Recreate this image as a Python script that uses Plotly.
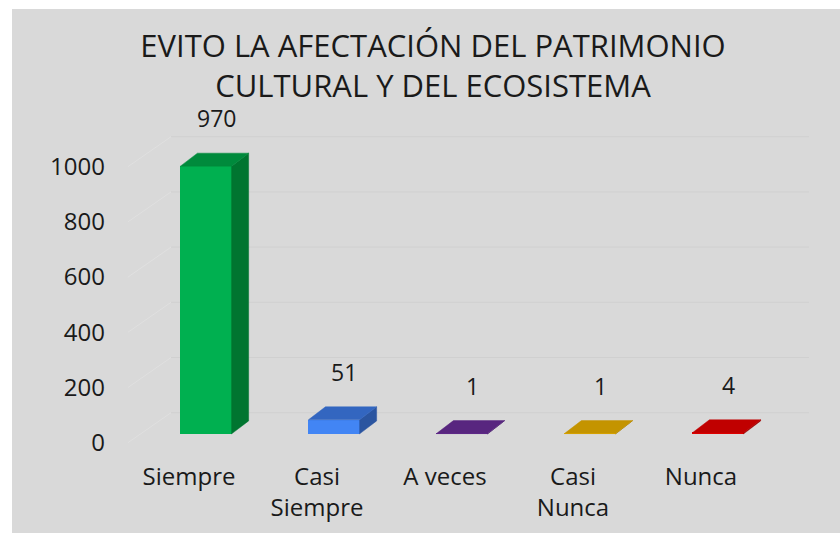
import plotly.graph_objects as go

# Chart data
categories = ["Siempre", "Casi<br>Siempre", "A veces", "Casi<br>Nunca", "Nunca"]
values = [970, 51, 1, 1, 4]
y_ticks = [0, 200, 400, 600, 800, 1000]

# Face colours for the pseudo-3D columns
front_colors = ["#00b050", "#4285f4", "#7030a0", "#ffc000", "#e00000"]
top_colors = ["#008a3c", "#3366c0", "#58267f", "#c49400", "#c00000"]
side_colors = ["#007530", "#2b55a0", "#451d66", "#9c7500", "#990000"]

# Projection constants (x in category units, y in value units)
BAR_SHIFT = 0.133      # front face centre relative to the category label
BAR_W = 0.40           # column width
BAR_BASE = 32          # floor height of the column front faces
DEPTH_X = 0.133        # column depth, horizontal part
DEPTH_Y = 47           # column depth, vertical part
WALL_X_FRONT = -0.477  # left edge of the floor (front)
WALL_X_BACK = -0.14    # left edge of the back wall
WALL_X_RIGHT = 4.844   # right edge of the back wall
WALL_DY = 108.7        # height offset of the back wall
LABEL_DX = 0.08
LABEL_SHIFT = 35

FONT = "Open Sans"
TEXT = "#1a1a1a"

ML, MR, MT, MB = 120, 10, 100, 78
W, H = 840, 533

fig = go.Figure()

# Grey chart panel behind everything
fig.add_shape(
    type="rect", xref="paper", yref="paper", xsizemode="pixel", ysizemode="pixel",
    xanchor=0, yanchor=0, x0=12 - ML, x1=W - ML + 5, y0=-MB - 5, y1=(H - MB) - 9,
    fillcolor="#d9d9d9", line=dict(width=0), layer="below")

# Back-wall grid lines with their slanted side-wall segment
for v in y_ticks:
    fig.add_shape(
        type="line", xref="x", yref="y",
        x0=WALL_X_FRONT, y0=v, x1=WALL_X_BACK, y1=v + WALL_DY,
        line=dict(color="#e0e0e0", width=1), layer="below")
    fig.add_shape(
        type="line", xref="x", yref="y",
        x0=WALL_X_BACK, y0=v + WALL_DY, x1=WALL_X_RIGHT, y1=v + WALL_DY,
        line=dict(color="#d0d0d0", width=1), layer="below")

positions = list(range(len(categories)))

# Side and top faces of every column
for i, v in enumerate(values):
    x0 = positions[i] + BAR_SHIFT - BAR_W / 2
    x1 = x0 + BAR_W
    top = BAR_BASE + v
    fig.add_trace(go.Scatter(
        x=[x1, x1 + DEPTH_X, x1 + DEPTH_X, x1, x1],
        y=[BAR_BASE, BAR_BASE + DEPTH_Y, top + DEPTH_Y, top, BAR_BASE],
        mode="lines", fill="toself", fillcolor=side_colors[i],
        line=dict(color=side_colors[i], width=0.5),
        hoverinfo="skip", showlegend=False))
    fig.add_trace(go.Scatter(
        x=[x0, x1, x1 + DEPTH_X, x0 + DEPTH_X, x0],
        y=[top, top, top + DEPTH_Y, top + DEPTH_Y, top],
        mode="lines", fill="toself", fillcolor=top_colors[i],
        line=dict(color=top_colors[i], width=0.5),
        hoverinfo="skip", showlegend=False))

# Front faces
fig.add_trace(go.Bar(
    x=[p + BAR_SHIFT for p in positions], y=values, base=BAR_BASE,
    width=BAR_W, marker=dict(color=front_colors, line=dict(width=0)),
    showlegend=False, hovertemplate="%{y}<extra></extra>"))

# Value labels above each column
for i, v in enumerate(values):
    fig.add_annotation(
        x=positions[i] + BAR_SHIFT + LABEL_DX, y=BAR_BASE + v + DEPTH_Y,
        text=str(v), showarrow=False, yshift=LABEL_SHIFT,
        font=dict(family=FONT, size=23, color=TEXT))

fig.update_layout(
    width=W, height=H,
    margin=dict(l=ML, r=MR, t=MT, b=MB),
    paper_bgcolor="white", plot_bgcolor="rgba(0,0,0,0)",
    title=dict(
        text="EVITO LA AFECTACIÓN DEL PATRIMONIO<br>CULTURAL Y DEL ECOSISTEMA",
        x=433 / W, xanchor="center", xref="container",
        y=1 - 57 / H, yanchor="top",
        font=dict(family=FONT, size=31, color=TEXT)),
    bargap=0,
    xaxis=dict(
        range=[-0.539, 5.008], tickvals=positions, ticktext=categories,
        showgrid=False, zeroline=False, showline=False, ticks="",
        ticklabelstandoff=5,
        tickfont=dict(family=FONT, size=24, color=TEXT), fixedrange=True),
    yaxis=dict(
        range=[-44.57, 1241.6], tickvals=y_ticks,
        showgrid=False, zeroline=False, showline=False, ticks="",
        ticklabelstandoff=14,
        tickfont=dict(family=FONT, size=24, color=TEXT), fixedrange=True),
)

fig.write_html("out.html")
